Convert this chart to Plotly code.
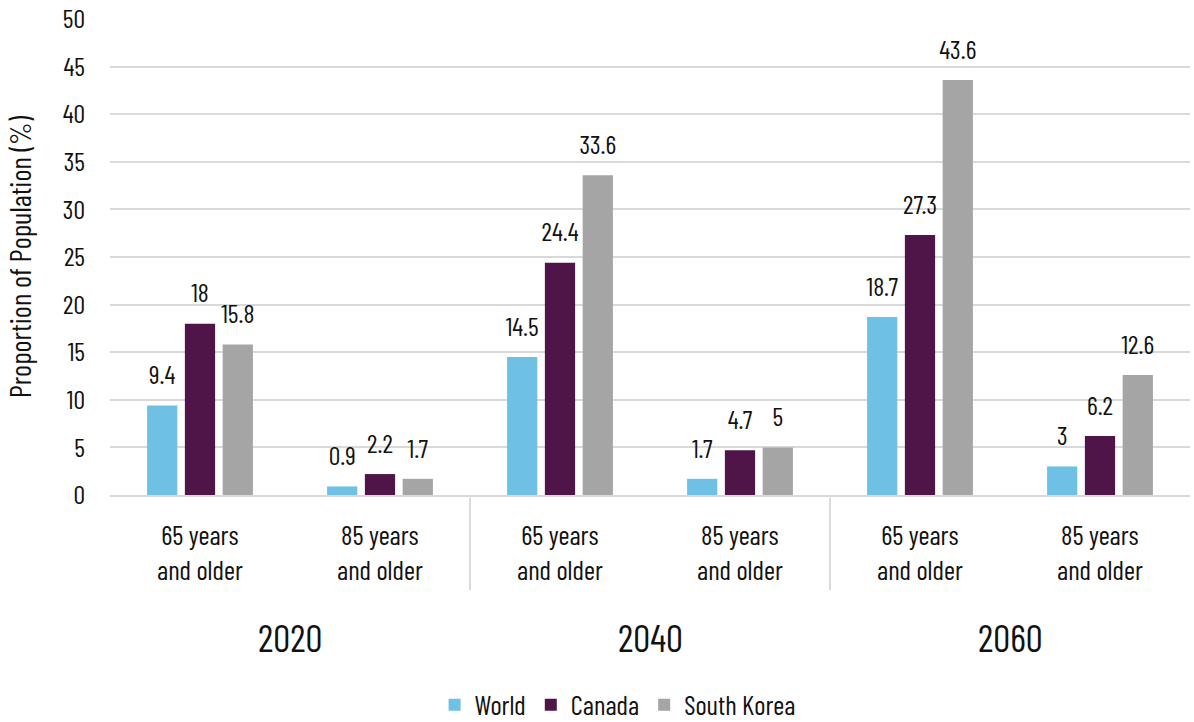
import plotly.graph_objects as go

years = ["2020", "2040", "2060"]
age_groups = ["65 years<br>and older", "85 years<br>and older"]
categories = [f"{y} {a}" for y in years for a in ["65+", "85+"]]
cat_labels = [a for y in years for a in age_groups]

series_names = ["World", "Canada", "South Korea"]
world = [9.4, 0.9, 14.5, 1.7, 18.7, 3]
canada = [18, 2.2, 24.4, 4.7, 27.3, 6.2]
south_korea = [15.8, 1.7, 33.6, 5, 43.6, 12.6]
colors = ["#6EC1E4", "#4F1548", "#A5A5A5"]

FONT = "Barlow Condensed, Roboto Condensed, sans-serif"
FS = 26
TXT = "#111"

fig = go.Figure()
for name, vals, col in zip(series_names, [world, canada, south_korea], colors):
    fig.add_trace(go.Bar(
        x=categories, y=vals, name=name, marker_color=col, marker_line_width=0,
        hoverinfo="x+y+name",
    ))
# data labels: grouped scatter text aligned with the grouped bars
for name, vals in zip(series_names, [world, canada, south_korea]):
    fig.add_trace(go.Scatter(
        x=categories, y=vals, mode="markers+text", showlegend=False,
        text=[f"{v:g}" for v in vals], textposition="top center",
        marker=dict(size=22, color="rgba(0,0,0,0)"),
        textfont=dict(family=FONT, size=FS, color=TXT), cliponaxis=False,
        hoverinfo="skip", name=name,
    ))

annotations = []
for cat, lab in zip(categories, cat_labels):
    annotations.append(dict(x=cat, y=-0.044, xref="x", yref="paper", text=lab,
                            showarrow=False, yanchor="top",
                            font=dict(family=FONT, size=27, color=TXT)))
for i, y in enumerate(years):
    annotations.append(dict(x=2 * i + 0.5, y=-0.245, xref="x", yref="paper", text=y,
                            showarrow=False, yanchor="top",
                            font=dict(family=FONT, size=38, color=TXT)))

shapes = []
for xs in [1.5, 3.5]:
    shapes.append(dict(type="line", xref="x", yref="paper", x0=xs, x1=xs,
                       y0=-0.005, y1=-0.2, line=dict(color="#D9D9D9", width=2)))

fig.update_layout(
    width=1194, height=722,
    margin=dict(l=110, r=4, t=19, b=227, autoexpand=False),
    plot_bgcolor="white", paper_bgcolor="white",
    barmode="group", bargap=0.37, bargroupgap=0.2,
    scattermode="group", scattergap=0.37,
    font=dict(family=FONT, size=FS, color=TXT),
    annotations=annotations, shapes=shapes,
    legend=dict(orientation="h", x=0.47, xanchor="center", y=-0.39, yanchor="top",
                font=dict(family=FONT, size=27, color=TXT)),
    xaxis=dict(showticklabels=False, showline=True, linecolor="#D9D9D9", linewidth=2,
               ticks="", range=[-0.5, 5.5]),
    yaxis=dict(range=[0, 50], dtick=5, showgrid=True, gridcolor="#D9D9D9", gridwidth=2,
               zeroline=False, ticks="", ticklabelstandoff=24,
               title=dict(text="Proportion of Population (%)", standoff=22,
                          font=dict(family=FONT, size=29, color=TXT)),
               tickfont=dict(family=FONT, size=FS, color=TXT)),
)

fig.write_html("out.html")
